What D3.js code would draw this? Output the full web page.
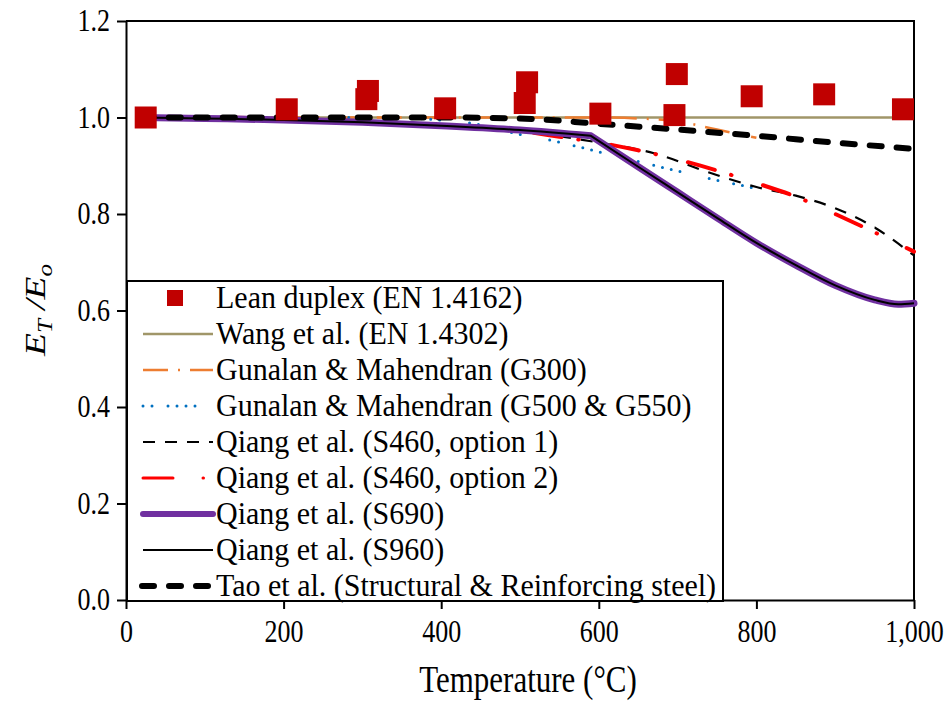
<!DOCTYPE html>
<html>
<head>
<meta charset="utf-8">
<script src="https://cdn.jsdelivr.net/npm/d3@7"></script>
<style>
  html, body { margin: 0; padding: 0; background: #fff; }
  svg { display: block; }
  text { font-family: "Liberation Serif", "Times New Roman", serif; fill: #000; }
</style>
</head>
<body>
<svg id="chart" width="952" height="704"></svg>
<script>
// Temperature (°C) and E_T/E_o ratios
const leanDuplexT = [25, 204, 305, 307, 405, 506, 509, 602, 696, 699, 794, 886, 986];
const leanDuplexV = [1.000, 1.017, 1.038, 1.055, 1.019, 1.030, 1.073, 1.008, 1.005, 1.090, 1.044, 1.048, 1.017];

const wangT = [20, 1000];
const wangV = [1.0, 1.0];

const g300T = [20, 200, 400, 600, 650, 700, 750, 800];
const g300V = [1.0, 1.0, 1.0, 1.0, 0.998, 0.992, 0.975, 0.958];

const g500T = [20, 200, 320, 430, 500, 550, 580, 650, 700, 750, 800];
const g500V = [1.0, 1.0, 1.0, 0.99, 0.965, 0.949, 0.937, 0.909, 0.889, 0.870, 0.853];

const s460aT = [20, 100, 200, 300, 400, 500, 600, 670, 740, 800, 850, 900, 950, 1000];
const s460aV = [1.0, 1.0, 0.998, 0.993, 0.985, 0.972, 0.948, 0.926, 0.886, 0.856, 0.838, 0.812, 0.772, 0.714];

const s460bT = [20, 100, 200, 300, 400, 500, 550, 600, 650, 700, 750, 800, 850, 900, 950, 1000];
const s460bV = [1.0, 1.0, 0.997, 0.991, 0.983, 0.972, 0.96, 0.948, 0.932, 0.913, 0.89, 0.864, 0.836, 0.8, 0.762, 0.722];

// S690 / S960: gentle decline to 590 °C, then a sharp change of slope
const s690T = [20, 100, 200, 300, 400, 500, 590, 650, 700, 750, 800, 850, 900, 950, 980, 1000];
const s690V = [1.0, 0.998, 0.995, 0.99, 0.983, 0.974, 0.962, 0.898, 0.845, 0.792, 0.74, 0.694, 0.652, 0.622, 0.613, 0.615];
const s690Kink = 590;

const s960T = s690T;
const s960V = s690V;

const taoT = [20, 100, 200, 300, 400, 500, 600, 700, 800, 900, 1000];
const taoV = [1.0, 1.0, 1.0, 1.0, 1.0, 0.998, 0.987, 0.975, 0.962, 0.948, 0.935];

const xTicks = [0, 200, 400, 600, 800, 1000];
const yTicks = [0, 0.2, 0.4, 0.6, 0.8, 1.0, 1.2];

const legendLabels = [
  "Lean duplex (EN 1.4162)",
  "Wang et al. (EN 1.4302)",
  "Gunalan & Mahendran (G300)",
  "Gunalan & Mahendran (G500 & G550)",
  "Qiang et al. (S460, option 1)",
  "Qiang et al. (S460, option 2)",
  "Qiang et al. (S690)",
  "Qiang et al. (S960)",
  "Tao et al. (Structural & Reinforcing steel)"
];

const svg = d3.select("#chart");
const x = d3.scaleLinear().domain([0, 1000]).range([126, 914]);
const y = d3.scaleLinear().domain([0, 1.2]).range([600, 21]);
const TS = 1.2; // vertical stretch of the axis lettering

const zip = (ts, vs) => ts.map((t, i) => ({ t, v: vs[i] }));

// line styles
const styles = [
  null,
  { stroke: "#A09669", width: 2.5, dash: null, cap: "butt" },
  { stroke: "#ED7D31", width: 2.5, dash: "25 10 2 10", cap: "butt" },
  { stroke: "#0070C0", width: 3, dash: "0 9 0 16 0 9 0 9 0 9 0 30", cap: "round" },
  { stroke: "#000000", width: 2.2, dash: "12 10", cap: "butt" },
  { stroke: "#FF0000", width: 4, dash: "28 17 0.5 33", cap: "round" },
  { stroke: "#7030A0", width: 7, dash: null, cap: "round" },
  { stroke: "#000000", width: 2, dash: null, cap: "butt" },
  { stroke: "#000000", width: 6, dash: "12 15", cap: "round" }
];

const series = [
  null,
  zip(wangT, wangV),
  zip(g300T, g300V),
  zip(g500T, g500V),
  zip(s460aT, s460aV),
  zip(s460bT, s460bV),
  zip(s690T, s690V),
  zip(s960T, s960V),
  zip(taoT, taoV)
];

// plot frame (top and right edges)
svg.append("path")
  .attr("d", `M${x(0)},${y(1.2)}H${x(1000)}V${y(0)}`)
  .attr("fill", "none").attr("stroke", "#000").attr("stroke-width", 2);

const line = d3.line().x(d => x(d.t)).y(d => y(d.v)).curve(d3.curveMonotoneX);
// smooth on each side of a break point, with a sharp corner at the break
const kinked = (pts, k) => {
  const a = pts.filter(d => d.t <= k), b = pts.filter(d => d.t >= k);
  return line(a) + line(b).replace(/^M/, "L");
};

const g = svg.append("g");
for (let i = 1; i < series.length; i++) {
  const s = styles[i];
  g.append("path")
    .attr("d", (i === 6 || i === 7) ? kinked(series[i], s690Kink) : line(series[i]))
    .attr("fill", "none")
    .attr("stroke", s.stroke)
    .attr("stroke-width", s.width)
    .attr("stroke-linecap", s.cap)
    .attr("stroke-linejoin", "round")
    .attr("stroke-dasharray", s.dash);
}

// measured points
const sq = 22;
svg.append("g").selectAll("rect")
  .data(zip(leanDuplexT, leanDuplexV))
  .join("rect")
  .attr("x", d => x(d.t) - sq / 2)
  .attr("y", d => y(d.v) - sq / 2)
  .attr("width", sq).attr("height", sq)
  .attr("fill", "#C00000");

// axes
const xAxis = svg.append("g")
  .attr("transform", `translate(0,${y(0)})`)
  .call(d3.axisBottom(x).tickValues(xTicks).tickFormat(d3.format(",")).tickSize(9).tickSizeOuter(0));
const yAxis = svg.append("g")
  .attr("transform", `translate(${x(0)},0)`)
  .call(d3.axisLeft(y).tickValues(yTicks).tickFormat(d3.format(".1f")).tickSize(9).tickSizeOuter(0));
[xAxis, yAxis].forEach(a => {
  a.select(".domain").attr("stroke", "#000").attr("stroke-width", 2);
  a.selectAll(".tick line").attr("stroke", "#000").attr("stroke-width", 2);
  a.selectAll(".tick text").attr("font-size", 26).attr("font-family", "Liberation Serif");
});
xAxis.selectAll(".tick text")
  .attr("y", 0).attr("dy", "0.71em")
  .attr("transform", `translate(0,20) scale(1,${TS})`);
yAxis.selectAll(".tick text")
  .attr("x", 0).attr("dy", "0.32em")
  .attr("transform", `translate(-16,0) scale(1,${TS})`);

// axis titles
svg.append("text")
  .attr("transform", `translate(528,679) scale(1,1.2)`)
  .attr("dy", "0.35em")
  .attr("text-anchor", "middle")
  .attr("font-size", 31)
  .text("Temperature (°C)");

const yt = svg.append("text")
  .attr("transform", `translate(36,310) scale(1,1.25) rotate(-90)`)
  .attr("dy", "0.3em")
  .attr("text-anchor", "middle")
  .attr("font-size", 30)
  .attr("font-style", "italic");
yt.append("tspan").text("E");
yt.append("tspan").attr("font-size", 20).attr("dy", 7).text("T");
yt.append("tspan").attr("dy", -7).text(" /E");
yt.append("tspan").attr("font-size", 20).attr("dy", 7).text("o");

// legend
const lg = svg.append("g");
lg.append("rect")
  .attr("x", 127).attr("y", 281).attr("width", 596).attr("height", 320)
  .attr("fill", "#fff").attr("stroke", "#000").attr("stroke-width", 2);

const rowY = i => 298 + i * 36;
legendLabels.forEach((lab, i) => {
  const cy = rowY(i);
  if (i === 0) {
    lg.append("rect").attr("x", 167).attr("y", cy - 8).attr("width", 16).attr("height", 16).attr("fill", "#C00000");
  } else {
    const s = styles[i];
    lg.append("line")
      .attr("x1", i === 8 ? 142 : 143).attr("x2", i === 8 ? 211 : 213)
      .attr("y1", cy).attr("y2", cy)
      .attr("stroke", s.stroke)
      .attr("stroke-width", i === 6 ? 6 : (i === 5 ? 3 : s.width))
      .attr("stroke-linecap", s.cap)
      .attr("stroke-dasharray", i === 5 ? "30 30 0.5 30" : s.dash);
  }
  lg.append("text")
    .attr("transform", `translate(216,${cy}) scale(1,1.05)`)
    .attr("dy", "0.33em")
    .attr("font-size", 30)
    .text(lab);
});
</script>
</body>
</html>
